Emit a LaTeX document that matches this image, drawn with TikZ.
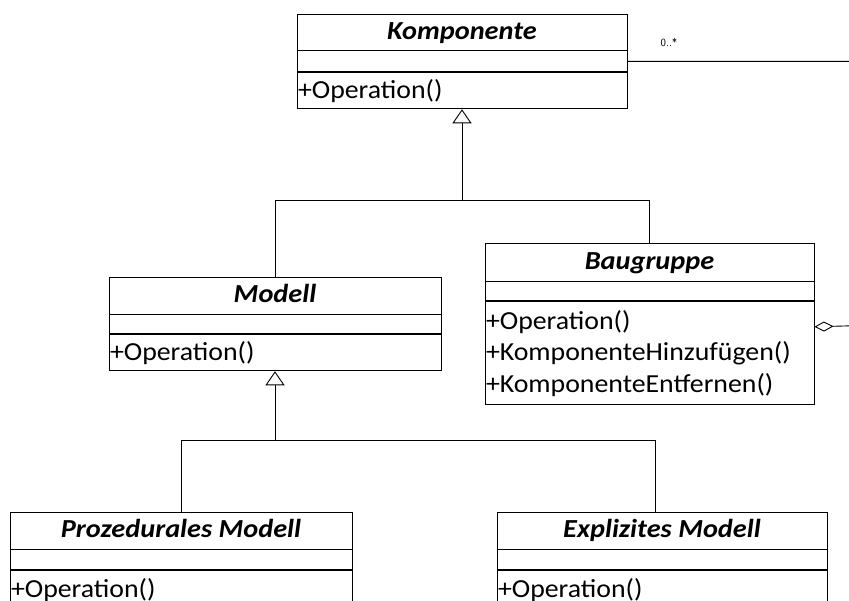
\documentclass[tikz,border=0pt]{standalone}
\usepackage{fontspec}
\setmainfont{Carlito}
\usetikzlibrary{arrows.meta,positioning}
\newcommand{\wide}[1]{\scalebox{1.09}[1]{#1}}
\newcommand{\opline}[1]{\scalebox{1.07}[1]{#1}}

\begin{document}
\begin{tikzpicture}[x=1pt,y=1pt,
	classtitle/.style={draw, line width=0.9pt, inner sep=0pt, text height=19pt, text depth=5pt,
		font=\fontsize{26}{31.5}\selectfont\bfseries\itshape},
	compartment/.style={draw, line width=0.9pt, inner sep=0pt},
	operations/.style={draw, line width=0.9pt, inner xsep=1pt, inner ysep=0pt,
		align=left, font=\fontsize{26}{31.5}\selectfont},
	inherit/.style={-{Triangle[open, length=14pt, width=19pt]}, line width=0.9pt},
	aggregate/.style={{Diamond[open, length=19pt, width=10pt]}-, line width=0.9pt}]
	\useasboundingbox (0,0) rectangle (849,-600);
	\clip (0,0) rectangle (849,-600);
	%draw classes
	\node[classtitle, minimum width=330pt, minimum height=36pt] (komponente) at (462,-32) {\wide{Komponente}};
	\node[compartment, minimum width=330pt, minimum height=21pt, below=0pt of komponente] (komponenteAttr) {};
	\node[operations, text width=328pt, minimum height=36pt, below=0pt of komponenteAttr] (komponenteOps) {\opline{+Operation()}};

	\node[classtitle, minimum width=332pt, minimum height=37pt] (modell) at (275,-295.5) {\wide{Modell}};
	\node[compartment, minimum width=332pt, minimum height=19pt, below=0pt of modell] (modellAttr) {};
	\node[operations, text width=330pt, minimum height=36pt, below=0pt of modellAttr] (modellOps) {\opline{+Operation()}};

	\node[classtitle, minimum width=329pt, minimum height=38pt] (baugruppe) at (649.5,-262) {\wide{Baugruppe}};
	\node[compartment, minimum width=329pt, minimum height=19pt, below=0pt of baugruppe] (baugruppeAttr) {};
	\node[operations, text width=327pt, minimum height=103pt, below=0pt of baugruppeAttr] (baugruppeOps)
		{\opline{+Operation()}\\\opline{+KomponenteHinzufügen()}\\\opline{+KomponenteEntfernen()}};

	\node[classtitle, minimum width=342pt, minimum height=37pt] (prozedural) at (181,-530.5) {\wide{Prozedurales Modell}};
	\node[compartment, minimum width=342pt, minimum height=20pt, below=0pt of prozedural] (prozeduralAttr) {};
	\node[operations, text width=340pt, minimum height=38pt, below=0pt of prozeduralAttr] (prozeduralOps) {\opline{+Operation()}};

	\node[classtitle, minimum width=330pt, minimum height=37pt] (explizit) at (662,-530.5) {\wide{Explizites Modell}};
	\node[compartment, minimum width=330pt, minimum height=20pt, below=0pt of explizit] (explizitAttr) {};
	\node[operations, text width=328pt, minimum height=38pt, below=0pt of explizitAttr] (explizitOps) {\opline{+Operation()}};

	%draw generalisations
	\coordinate[below=91pt of komponenteOps.south] (split1);
	\draw[line width=0.9pt] (modell.north) |- (split1) -| (baugruppe.north);
	\draw[inherit] (split1) -- (komponenteOps.south);
	\coordinate[below=69pt of modellOps.south] (split2);
	\draw[line width=0.9pt] (prozedural.north) |- (split2) -| ([xshift=-7pt]explizit.north);
	\draw[inherit] (split2) -- (modellOps.south);

	%draw aggregation
	\coordinate (aggright) at (880,-325);
	\draw[aggregate] ([yshift=26.5pt]baugruppeOps.east) -- (aggright) |- (komponenteAttr.east);
	\node[font=\fontsize{11}{13}\selectfont\sffamily] (multi) at (669,-42) {0..*};
\end{tikzpicture}
\end{document}
